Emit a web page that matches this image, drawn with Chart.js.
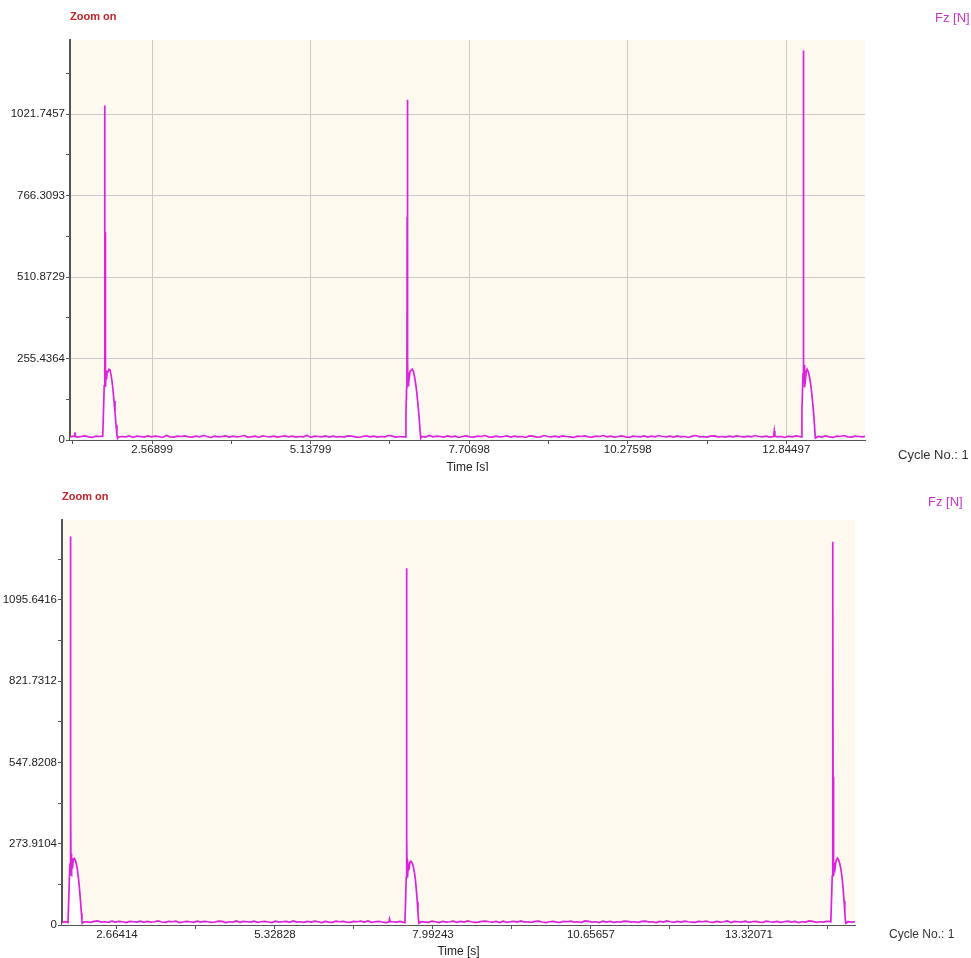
<!DOCTYPE html>
<html>
<head>
<meta charset="utf-8">
<title>Fz [N]</title>
<script src="https://cdn.jsdelivr.net/npm/chart.js@4.4.1/dist/chart.umd.min.js"></script>
<style>
body { margin:0; background:#fff; width:971px; height:958px; position:relative; overflow:hidden; font-family:"Liberation Sans", Arial, sans-serif; }
.panel { position:absolute; left:0; width:971px; overflow:hidden; }
.panel canvas { display:block; }
.zoom { position:absolute; font-weight:bold; font-size:11px; color:#c4242b; line-height:14px; }
.unit { position:absolute; font-size:13px; color:#cc33cc; line-height:16px; }
.cycle { position:absolute; color:#333; line-height:16px; }
</style>
</head>
<body>
<div class="panel" style="top:0;height:471px"><canvas id="topChart" width="971" height="480"></canvas></div>
<div class="panel" style="top:471px;height:487px"><canvas id="bottomChart" width="971" height="500"></canvas></div>

<div class="zoom" style="left:70px;top:9px">Zoom on</div>
<div class="unit" style="left:935px;top:10px">Fz [N]</div>
<div class="cycle" style="left:898px;top:447px;font-size:13px">Cycle No.: 1</div>

<div class="zoom" style="left:62px;top:489px">Zoom on</div>
<div class="unit" style="left:928px;top:494px">Fz [N]</div>
<div class="cycle" style="left:889px;top:926px;font-size:12px">Cycle No.: 1</div>

<script>
// tick labels as shown on the axes
const topTimeTicks = ['2.56899', '5.13799', '7.70698', '10.27598', '12.84497'];
const topForceTicks = ['0', '255.4364', '510.8729', '766.3093', '1021.7457'];
const bottomTimeTicks = ['2.66414', '5.32828', '7.99243', '10.65657', '13.32071'];
const bottomForceTicks = ['0', '273.9104', '547.8208', '821.7312', '1095.6416'];

// baseline noise, one sample every 0.06 s
const noiseStep = 0.06;
const topNoiseStart = 1.24;
const topNoise = [
  10,12,9,11,13,10,8,12,11,9,14,10,12,9,11,10,13,8,12,11,
  9,13,10,12,11,8,14,10,9,12,11,13,10,9,12,10,14,11,8,12,
  10,11,13,9,12,10,11,14,9,10,12,8,13,11,10,12,9,11,13,10,
  12,9,11,10,14,8,12,11,10,13,9,12,10,11,9,13,12,10,8,11,
  13,10,12,9,11,10,14,12,9,11,10,13,8,12,10,11,9,14,10,12,
  11,9,13,10,12,8,11,13,10,9,12,11,14,10,9,12,10,11,13,9,
  12,10,11,8,13,12,9,10,14,11,10,12,9,13,11,10,8,12,11,13,
  10,9,12,11,14,10,12,9,11,13,10,8,12,11,10,13,9,12,10,14,
  11,10,12,9,13,10,11,8,12,14,10,11,9,12,13,10,11,9,12,10,
  13,11,9,12,10,14,11,10,12,9,13,10,11,8,12,10,13,11,9,12,
  10,12,11,9,13,10,8,12,11,14,10,9,12,11,10,12,11
];
const bottomNoiseStart = 1.737;
const bottomNoise = [
  9,11,10,12,8,13,10,11,9,12,14,10,11,9,13,10,12,11,8,12,
  11,10,13,9,12,10,11,14,10,9,12,11,13,8,10,12,11,9,13,10,
  12,11,9,10,13,12,8,11,10,14,9,12,11,10,13,9,11,12,10,8,
  13,10,11,12,9,14,10,11,9,12,10,13,11,8,12,10,9,13,11,12,
  10,9,12,11,13,10,14,9,11,12,10,8,13,11,10,12,9,11,14,10,
  12,11,10,9,13,11,8,12,10,11,13,9,12,10,14,11,9,10,12,13,
  11,10,12,8,13,9,11,12,10,14,10,11,9,12,13,10,8,11,12,10,
  9,12,11,13,10,11,9,14,12,10,11,8,13,10,12,9,11,10,13,12,
  10,11,9,12,13,10,11,8,12,10,14,11,9,12,10,13,11,10,9,12,
  11,13,10,9,12,10,11,14,8,12,11,10,13,9,11,12,10,9,13,11,
  10,12,9,11,13,10,12,8,11,10,14,12,9,11,10,12,13,9,11,10,12,11,10,11
];

// force pulses (time [s], Fz [N])
const topPulseTimes = [
  [1.31, 1.32, 1.33],
  [1.770, 1.783, 1.794, 1.800, 1.803, 1.805, 1.807, 1.809, 1.811, 1.814, 1.818, 1.824, 1.832,
   1.842, 1.856, 1.872, 1.888, 1.905, 1.921, 1.937, 1.953, 1.969, 1.986, 2.000, 2.013],
  [6.670, 6.683, 6.694, 6.699, 6.702, 6.704, 6.706, 6.708, 6.710, 6.714, 6.719, 6.726, 6.736,
   6.750, 6.766, 6.784, 6.802, 6.820, 6.838, 6.856, 6.874, 6.892, 6.908, 6.918, 6.925],
  [12.64, 12.65, 12.66],
  [13.085, 13.098, 13.110, 13.116, 13.119, 13.121, 13.123, 13.125, 13.127, 13.129, 13.133, 13.138,
   13.146, 13.156, 13.168, 13.182, 13.200, 13.218, 13.236, 13.254, 13.272, 13.290, 13.304, 13.312, 13.317]
];
const topPulseForces = [
  [12, 24, 11],
  [12, 90, 170, 205, 640, 1049, 380, 651, 200, 245, 166, 210, 190,
   215, 214, 222, 219, 204, 184, 156, 122, 86, 46, 16, 6],
  [10, 85, 165, 205, 700, 1067, 900, 420, 190, 240, 170, 212, 195,
   216, 218, 222, 216, 200, 180, 152, 118, 80, 40, 14, 6],
  [11, 28, 12],
  [10, 90, 170, 210, 800, 1221, 1042, 600, 1000, 180, 235, 165,
   205, 190, 215, 222, 214, 200, 180, 152, 118, 78, 38, 14, 6]
];
const bottomPulseTimes = [
  [1.838, 1.850, 1.862, 1.872, 1.878, 1.880, 1.882, 1.884, 1.886, 1.889, 1.893, 1.898, 1.905,
   1.914, 1.926, 1.944, 1.962, 1.980, 1.998, 2.016, 2.034, 2.050, 2.064, 2.073, 2.079],
  [7.25, 7.26, 7.27],
  [7.520, 7.532, 7.542, 7.546, 7.548, 7.549, 7.551, 7.553, 7.556, 7.561, 7.567, 7.576,
   7.588, 7.604, 7.621, 7.640, 7.660, 7.680, 7.698, 7.714, 7.728, 7.740, 7.750, 7.756],
  [14.702, 14.714, 14.726, 14.732, 14.734, 14.736, 14.738, 14.740, 14.743, 14.748, 14.754, 14.762,
   14.774, 14.792, 14.815, 14.835, 14.855, 14.875, 14.893, 14.910, 14.925, 14.938, 14.948, 14.955]
];
const bottomPulseForces = [
  [8, 80, 160, 205, 600, 1101, 1309, 1050, 420, 170, 240, 168, 215,
   190, 222, 225, 218, 205, 185, 155, 118, 78, 40, 14, 6],
  [10, 20, 11],
  [8, 85, 160, 200, 560, 1202, 520, 300, 175, 215, 160, 200,
   185, 212, 215, 210, 198, 178, 150, 115, 78, 40, 14, 6],
  [8, 85, 165, 205, 700, 1292, 1100, 500, 180, 235, 165, 210,
   192, 218, 225, 218, 205, 185, 158, 122, 82, 42, 14, 6]
];

// merge baseline samples and pulses into one trace
const buildPoints = (start, noise, pulseT, pulseF) => {
  let pts = [];
  noise.forEach((f, i) => {
    const t = start + i * noiseStep;
    const inPulse = pulseT.some(g => t >= g[0] && t <= g[g.length - 1]);
    if (!inPulse) pts.push({x: t, y: f});
  });
  pulseT.forEach((g, k) => {
    g.forEach((t, j) => pts.push({x: t, y: pulseF[k][j]}));
  });
  pts.sort((a, b) => a.x - b.x);
  return pts;
};

// major ticks from the labels, minor ticks halfway between them
const tickList = (labels, min, max) => {
  const majors = labels.map(Number);
  const half = (majors[1] - majors[0]) / 2;
  let list = [];
  majors.forEach(v => list.push(v - half, v));
  list.push(majors[majors.length - 1] + half);
  return list.filter(v => v >= min && v <= max).map(v => ({value: v}));
};
const labelFor = (labels, v) => {
  const l = labels.find(s => Math.abs(Number(s) - v) < 1e-6);
  return l === undefined ? '' : l;
};

const tickFont = {family: '"Liberation Sans", Arial, sans-serif', size: 11.5};
const titleFont = {family: '"Liberation Sans", Arial, sans-serif', size: 12};

const creamArea = {
  id: 'creamArea',
  beforeDraw(chart) {
    const {ctx, chartArea: a} = chart;
    ctx.save();
    ctx.fillStyle = '#fdf9ee';
    ctx.fillRect(a.left, a.top, a.right - a.left, a.bottom - a.top);
    ctx.restore();
  }
};

const makeChart = (id, points, cfg) => new Chart(id, {
  type: 'line',
  data: {
    datasets: [{
      data: points,
      borderColor: '#dd22dd',
      borderWidth: 1.7,
      backgroundColor: '#ffffff',
      fill: 'origin',
      pointRadius: 0,
      tension: 0
    }]
  },
  options: {
    responsive: false,
    animation: false,
    devicePixelRatio: 1,
    layout: {padding: {top: cfg.padTop, right: cfg.padRight, left: 0, bottom: 0}},
    plugins: {legend: {display: false}, tooltip: {enabled: false}},
    scales: {
      x: {
        type: 'linear',
        min: cfg.xMin,
        max: cfg.xMax,
        afterBuildTicks: s => { s.ticks = tickList(cfg.xLabels, cfg.xMin, cfg.xMax); },
        afterFit: s => { s.height = cfg.xHeight; },
        ticks: {
          autoSkip: false, maxRotation: 0, padding: -1, color: '#222', font: tickFont,
          callback: v => labelFor(cfg.xLabels, v)
        },
        grid: {
          drawOnChartArea: cfg.grid,
          color: c => (c.tick && labelFor(cfg.xLabels, c.tick.value) !== '') ? '#cbcbcb' : 'rgba(0,0,0,0)',
          tickColor: '#555',
          tickLength: 4
        },
        border: {color: '#555', width: 1},
        title: {display: true, text: 'Time [s]', color: '#222', font: titleFont, padding: {top: 0, bottom: cfg.titlePad}}
      },
      y: {
        min: 0,
        max: cfg.yMax,
        afterBuildTicks: s => { s.ticks = tickList(cfg.yLabels, 0, cfg.yMax); },
        afterFit: s => { s.width = cfg.yWidth; },
        ticks: {
          autoSkip: false, padding: 1, color: '#222', font: tickFont,
          callback: v => labelFor(cfg.yLabels, v)
        },
        grid: {
          drawOnChartArea: cfg.grid,
          color: c => (c.tick && labelFor(cfg.yLabels, c.tick.value) !== '') ? '#cbcbcb' : 'rgba(0,0,0,0)',
          tickColor: '#555',
          tickLength: 4
        },
        border: {color: '#555', width: 2}
      }
    }
  },
  plugins: [creamArea]
});

makeChart('topChart', buildPoints(topNoiseStart, topNoise, topPulseTimes, topPulseForces), {
  xLabels: topTimeTicks, yLabels: topForceTicks,
  xMin: 1.24, xMax: 14.12, yMax: 1254,
  padTop: 40, padRight: 106, yWidth: 70, xHeight: 40, titlePad: 5, grid: true
});

makeChart('bottomChart', buildPoints(bottomNoiseStart, bottomNoise, bottomPulseTimes, bottomPulseForces), {
  xLabels: bottomTimeTicks, yLabels: bottomForceTicks,
  xMin: 1.737, xMax: 15.11, yMax: 1365,
  padTop: 49, padRight: 116, yWidth: 62, xHeight: 46, titlePad: 12, grid: false
});
</script>
</body>
</html>
